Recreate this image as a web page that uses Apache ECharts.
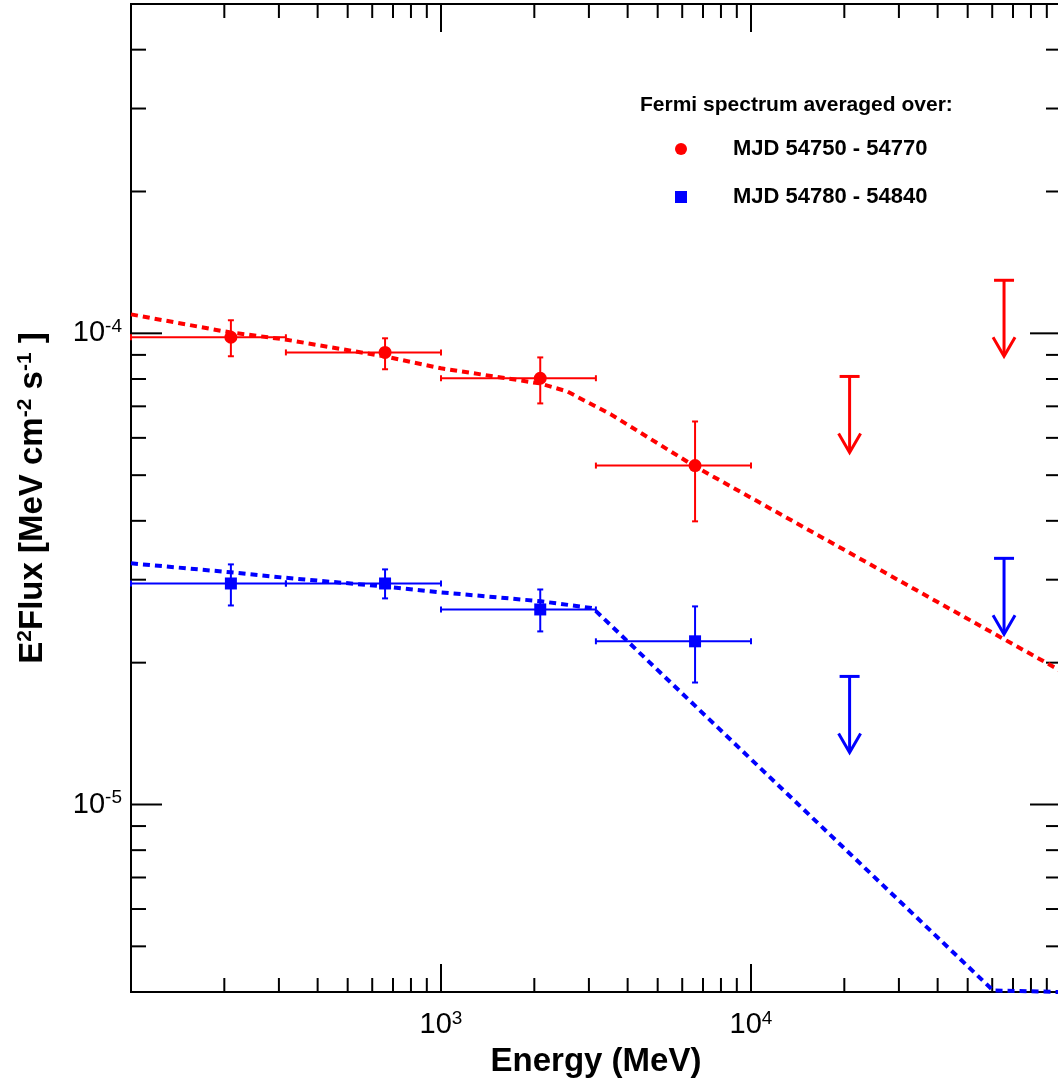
<!DOCTYPE html>
<html>
<head>
<meta charset="utf-8">
<script src="https://cdn.jsdelivr.net/npm/echarts@6/dist/echarts.min.js"></script>
<style>
  html, body { margin: 0; padding: 0; background: #fff; }
  #chart { width: 1058px; height: 1083px; }
</style>
</head>
<body>
<div id="chart"></div>
<script>
// bins (MeV)
const energy = [210, 660, 2090, 6600];
const energyLo = [100, 316, 1000, 3160];
const energyHi = [316, 1000, 3160, 10000];

// MJD 54750 - 54770
const fluxRed = [9.81e-5, 9.11e-5, 8.03e-5, 5.24e-5];
const fluxRedLo = [8.94e-5, 8.39e-5, 7.10e-5, 3.99e-5];
const fluxRedHi = [1.066e-4, 9.76e-5, 8.89e-5, 6.50e-5];

// MJD 54780 - 54840
const fluxBlue = [2.945e-5, 2.945e-5, 2.594e-5, 2.22e-5];
const fluxBlueLo = [2.645e-5, 2.738e-5, 2.33e-5, 1.815e-5];
const fluxBlueHi = [3.233e-5, 3.155e-5, 2.86e-5, 2.633e-5];

// upper limits
const ulEnergy = [20800, 65500];
const ulRed = [8.10e-5, 1.296e-4];
const ulBlue = [1.87e-5, 3.33e-5];

// fitted models (dashed)
const modelRedE = [100, 208, 312, 655, 1000, 2080, 2550, 3530, 6590, 100000];
const modelRed = [1.097e-4, 1.005e-4, 9.71e-5, 8.94e-5, 8.43e-5, 7.83e-5, 7.53e-5, 6.73e-5, 5.22e-5, 1.92e-5];
const modelBlueE = [100, 210, 312, 665, 1000, 2100, 3090, 60400, 100000];
const modelBlue = [3.25e-5, 3.11e-5, 3.03e-5, 2.90e-5, 2.82e-5, 2.70e-5, 2.61e-5, 4.03e-6, 4.0e-6];

// axis ticks
const xMajorTicks = [1000, 10000];
const xMinorTicks = [200, 300, 400, 500, 600, 700, 800, 900,
  2000, 3000, 4000, 5000, 6000, 7000, 8000, 9000,
  20000, 30000, 40000, 50000, 60000, 70000, 80000, 90000];
const yMajorTicks = [1e-5, 1e-4];
const yMinorTicks = [5e-6, 6e-6, 7e-6, 8e-6, 9e-6,
  2e-5, 3e-5, 4e-5, 5e-5, 6e-5, 7e-5, 8e-5, 9e-5,
  2e-4, 3e-4, 4e-4];
const xLabelExps = [3, 4];
const yLabelExps = [-5, -4];

const X_MIN = 100, X_MAX = 100000, Y_MIN = 4e-6, Y_MAX = 5e-4;
const FONT = "'Liberation Sans', Arial, Helvetica, sans-serif";
const RED = '#ff0000', BLUE = '#0000ff';

function powLabel(exps) {
  return function (v) {
    const e = Math.round(Math.log10(v));
    if (Math.abs(Math.log10(v) - e) > 1e-6 || exps.indexOf(e) < 0) return '';
    return '{b|10}{s|' + e + '}';
  };
}
const labelRich = {
  b: { fontSize: 29, fontFamily: FONT, color: '#000', lineHeight: 32 },
  s: { fontSize: 19, fontFamily: FONT, color: '#000', verticalAlign: 'top', lineHeight: 20 }
};

function line(x1, y1, x2, y2, color, w) {
  return { type: 'line', shape: { x1: x1, y1: y1, x2: x2, y2: y2 }, style: { stroke: color, lineWidth: w } };
}

// ticks on all four sides, pointing in
function xTickRender(len) {
  return function (params, api) {
    const cs = params.coordSys;
    const x = api.coord([api.value(0), Y_MIN])[0];
    return { type: 'group', children: [
      line(x, cs.y + cs.height, x, cs.y + cs.height - len, '#000', 2),
      line(x, cs.y, x, cs.y + len, '#000', 2)
    ] };
  };
}
function yTickRender(len) {
  return function (params, api) {
    const cs = params.coordSys;
    const y = api.coord([X_MIN, api.value(1)])[1];
    return { type: 'group', children: [
      line(cs.x, y, cs.x + len, y, '#000', 2),
      line(cs.x + cs.width, y, cs.x + cs.width - len, y, '#000', 2)
    ] };
  };
}

function errRender(color) {
  return function (params, api) {
    const c = api.coord([api.value(0), api.value(1)]);
    const l = api.coord([api.value(2), api.value(1)]);
    const r = api.coord([api.value(3), api.value(1)]);
    const lo = api.coord([api.value(0), api.value(4)]);
    const hi = api.coord([api.value(0), api.value(5)]);
    const w = 2;
    return { type: 'group', children: [
      line(l[0], c[1], r[0], c[1], color, w),
      line(l[0], c[1] - 3, l[0], c[1] + 3, color, w),
      line(r[0], c[1] - 3, r[0], c[1] + 3, color, w),
      line(c[0], lo[1], c[0], hi[1], color, w),
      line(c[0] - 3, lo[1], c[0] + 3, lo[1], color, w),
      line(c[0] - 3, hi[1], c[0] + 3, hi[1], color, w)
    ] };
  };
}

function ulRender(color) {
  return function (params, api) {
    const p = api.coord([api.value(0), api.value(1)]);
    const tip = p[1] + 76;
    return { type: 'group', children: [
      line(p[0] - 10, p[1], p[0] + 10, p[1], color, 3),
      line(p[0], p[1], p[0], tip - 1, color, 3),
      { type: 'polyline', shape: { points: [[p[0] - 11, tip - 19], [p[0], tip], [p[0] + 11, tip - 19]] },
        style: { stroke: color, lineWidth: 3, fill: null } }
    ] };
  };
}

function zip2(a, b) { return a.map((v, i) => [v, b[i]]); }
function errData(y, ylo, yhi) {
  return energy.map((e, i) => [e, y[i], energyLo[i], energyHi[i], ylo[i], yhi[i]]);
}

const chart = echarts.init(document.getElementById('chart'), null, { renderer: 'canvas' });
chart.setOption({
  animation: false,
  backgroundColor: '#fff',
  textStyle: { fontFamily: FONT },
  title: {
    text: 'Fermi spectrum averaged over:',
    left: 640, top: 95, padding: 0,
    textStyle: { fontSize: 21, fontWeight: 'bold', color: '#000', fontFamily: FONT }
  },
  legend: {
    orient: 'vertical', left: 675, top: 137, padding: 0,
    itemWidth: 12, itemHeight: 12, itemGap: 24,
    itemStyle: { opacity: 1 },
    textStyle: { fontSize: 22, fontWeight: 'bold', color: '#000', fontFamily: FONT,
      lineHeight: 24, padding: [0, 0, 0, 41] },
    data: [{ name: 'MJD 54750 - 54770', icon: 'circle' }, { name: 'MJD 54780 - 54840', icon: 'rect' }]
  },
  grid: {
    left: 131, top: 4, width: 930, height: 988,
    show: true, borderColor: '#000', borderWidth: 2,
    outerBoundsMode: 'none', containLabel: false
  },
  xAxis: {
    type: 'log', logBase: 10, min: X_MIN, max: X_MAX,
    axisLine: { show: false }, axisTick: { show: false },
    splitLine: { show: false }, minorTick: { show: false },
    axisLabel: { formatter: powLabel(xLabelExps), rich: labelRich, margin: 17, showMinLabel: true, showMaxLabel: true },
    name: 'Energy (MeV)', nameLocation: 'middle', nameGap: 53,
    nameTextStyle: { fontSize: 33, fontWeight: 'bold', color: '#000', fontFamily: FONT }
  },
  yAxis: {
    type: 'log', logBase: 10, min: Y_MIN, max: Y_MAX,
    axisLine: { show: false }, axisTick: { show: false },
    splitLine: { show: false }, minorTick: { show: false },
    axisLabel: { formatter: powLabel(yLabelExps), rich: labelRich, margin: 9 },
    name: '{b|E}{s|2}{b|Flux [MeV cm}{s|-2}{b| s}{s|-1}{b| ]}',
    nameLocation: 'middle', nameGap: 80,
    nameTextStyle: {
      rich: {
        b: { fontSize: 33, fontWeight: 'bold', color: '#000', fontFamily: FONT, lineHeight: 36 },
        s: { fontSize: 21, fontWeight: 'bold', color: '#000', fontFamily: FONT, verticalAlign: 'top', lineHeight: 22 }
      }
    }
  },
  series: [
    { type: 'custom', name: 'xmaj', renderItem: xTickRender(28), clip: false, silent: true,
      data: xMajorTicks.map(v => [v, Y_MIN]) },
    { type: 'custom', name: 'xmin', renderItem: xTickRender(14), clip: false, silent: true,
      data: xMinorTicks.map(v => [v, Y_MIN]) },
    { type: 'custom', name: 'ymaj', renderItem: yTickRender(31), clip: false, silent: true,
      data: yMajorTicks.map(v => [X_MIN, v]) },
    { type: 'custom', name: 'ymin', renderItem: yTickRender(15), clip: false, silent: true,
      data: yMinorTicks.map(v => [X_MIN, v]) },
    { type: 'line', name: 'model red', data: zip2(modelRedE, modelRed), showSymbol: false, symbol: 'none',
      lineStyle: { color: RED, width: 4, type: [7, 5] }, clip: true, z: 3 },
    { type: 'line', name: 'model blue', data: zip2(modelBlueE, modelBlue), showSymbol: false, symbol: 'none',
      lineStyle: { color: BLUE, width: 4, type: [7, 5] }, clip: true, z: 3 },
    { type: 'custom', name: 'err red', renderItem: errRender(RED), data: errData(fluxRed, fluxRedLo, fluxRedHi), z: 4 },
    { type: 'custom', name: 'err blue', renderItem: errRender(BLUE), data: errData(fluxBlue, fluxBlueLo, fluxBlueHi), z: 4 },
    { type: 'custom', name: 'ul red', renderItem: ulRender(RED), data: zip2(ulEnergy, ulRed), z: 4 },
    { type: 'custom', name: 'ul blue', renderItem: ulRender(BLUE), data: zip2(ulEnergy, ulBlue), z: 4 },
    { type: 'scatter', name: 'MJD 54750 - 54770', data: zip2(energy, fluxRed), symbol: 'circle', symbolSize: 13,
      itemStyle: { color: RED, opacity: 1 }, z: 5 },
    { type: 'scatter', name: 'MJD 54780 - 54840', data: zip2(energy, fluxBlue), symbol: 'rect', symbolSize: 12,
      itemStyle: { color: BLUE, opacity: 1 }, z: 5 }
  ]
});
</script>
</body>
</html>
